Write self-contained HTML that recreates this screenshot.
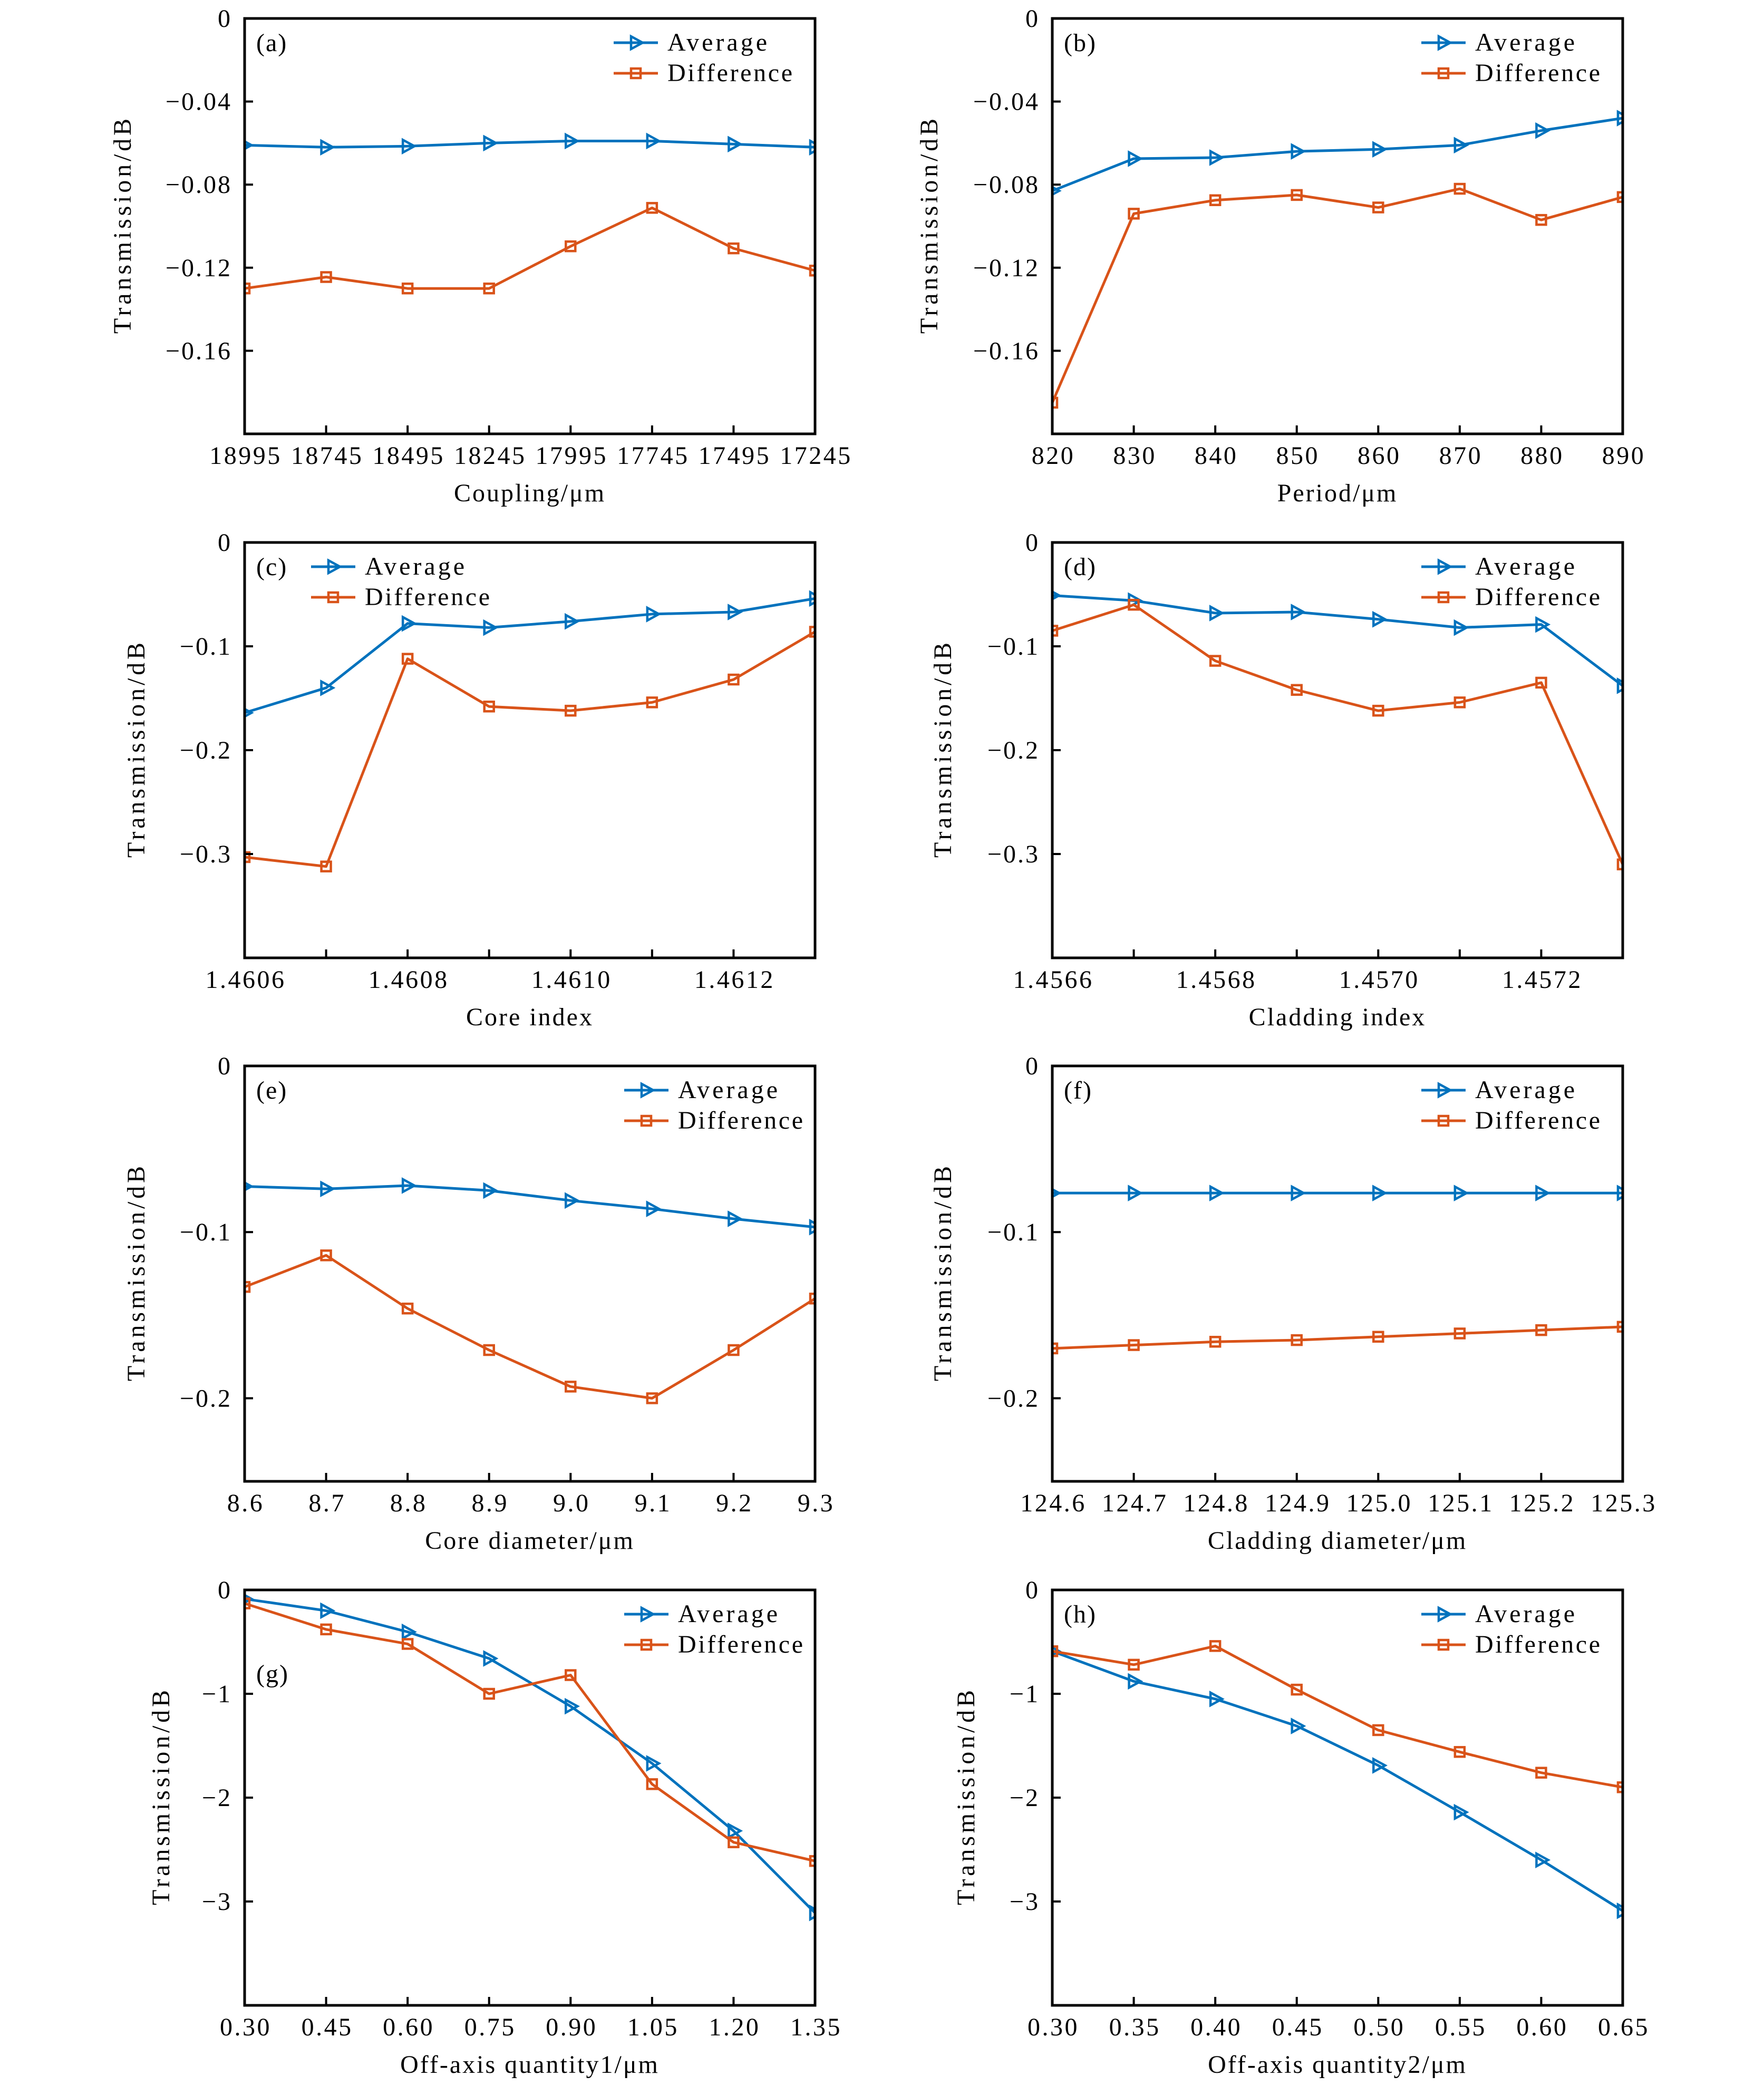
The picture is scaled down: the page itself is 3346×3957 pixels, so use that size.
<!DOCTYPE html>
<html><head><meta charset="utf-8">
<style>
html,body{margin:0;padding:0;background:#fff;}
svg{display:block;}
text{font-family:"Liberation Serif",serif;fill:#000;}
</style></head>
<body>
<svg id="fig" width="3346" height="3957" viewBox="0 0 3346 3957" xmlns="http://www.w3.org/2000/svg"></svg>
<script>
// ---- data ----
const xLabelsA = ["18995","18745","18495","18245","17995","17745","17495","17245"];
const avgA = [-0.061,-0.062,-0.0615,-0.060,-0.059,-0.059,-0.0605,-0.062];
const difA = [-0.130,-0.1245,-0.130,-0.130,-0.1097,-0.0912,-0.1107,-0.1214];
const yTicksA = [0,-0.04,-0.08,-0.12,-0.16];
const yTickLabelsA = ["0","\u22120.04","\u22120.08","\u22120.12","\u22120.16"];

const xLabelsB = ["820","830","840","850","860","870","880","890"];
const avgB = [-0.083,-0.0675,-0.067,-0.064,-0.063,-0.061,-0.054,-0.048];
const difB = [-0.185,-0.094,-0.0875,-0.085,-0.091,-0.082,-0.097,-0.086];
const yTicksB = [0,-0.04,-0.08,-0.12,-0.16];
const yTickLabelsB = ["0","\u22120.04","\u22120.08","\u22120.12","\u22120.16"];

const xLabelsC = ["1.4606","","1.4608","","1.4610","","1.4612",""];
const avgC = [-0.164,-0.140,-0.078,-0.082,-0.076,-0.069,-0.067,-0.054];
const difC = [-0.303,-0.312,-0.112,-0.158,-0.162,-0.154,-0.132,-0.086];
const yTicksC = [0,-0.1,-0.2,-0.3];
const yTickLabelsC = ["0","\u22120.1","\u22120.2","\u22120.3"];

const xLabelsD = ["1.4566","","1.4568","","1.4570","","1.4572",""];
const avgD = [-0.051,-0.056,-0.068,-0.067,-0.074,-0.082,-0.079,-0.138];
const difD = [-0.085,-0.060,-0.114,-0.142,-0.162,-0.154,-0.135,-0.310];
const yTicksD = [0,-0.1,-0.2,-0.3];
const yTickLabelsD = ["0","\u22120.1","\u22120.2","\u22120.3"];

const xLabelsE = ["8.6","8.7","8.8","8.9","9.0","9.1","9.2","9.3"];
const avgE = [-0.0725,-0.074,-0.072,-0.075,-0.081,-0.086,-0.092,-0.097];
const difE = [-0.133,-0.114,-0.146,-0.171,-0.193,-0.200,-0.171,-0.140];
const yTicksE = [0,-0.1,-0.2];
const yTickLabelsE = ["0","\u22120.1","\u22120.2"];

const xLabelsF = ["124.6","124.7","124.8","124.9","125.0","125.1","125.2","125.3"];
const avgF = [-0.0765,-0.0765,-0.0765,-0.0765,-0.0765,-0.0765,-0.0765,-0.0765];
const difF = [-0.170,-0.168,-0.166,-0.165,-0.163,-0.161,-0.159,-0.157];
const yTicksF = [0,-0.1,-0.2];
const yTickLabelsF = ["0","\u22120.1","\u22120.2"];

const xLabelsG = ["0.30","0.45","0.60","0.75","0.90","1.05","1.20","1.35"];
const avgG = [-0.086,-0.2,-0.404,-0.66,-1.12,-1.67,-2.32,-3.11];
const difG = [-0.13,-0.38,-0.52,-1.0,-0.82,-1.87,-2.43,-2.61];
const yTicksG = [0,-1,-2,-3];
const yTickLabelsG = ["0","\u22121","\u22122","\u22123"];

const xLabelsH = ["0.30","0.35","0.40","0.45","0.50","0.55","0.60","0.65"];
const avgH = [-0.59,-0.88,-1.05,-1.31,-1.69,-2.14,-2.60,-3.09];
const difH = [-0.59,-0.72,-0.54,-0.96,-1.35,-1.56,-1.76,-1.90];
const yTicksH = [0,-1,-2,-3];
const yTickLabelsH = ["0","\u22121","\u22122","\u22123"];

const BLUE="#0072BD", ORANGE="#D95319";
const NS="http://www.w3.org/2000/svg";
const svg=document.getElementById('fig');
function mk(tag,attrs,parent){const e=document.createElementNS(NS,tag);for(const k in attrs)e.setAttribute(k,attrs[k]);(parent||svg).appendChild(e);return e;}

const W=1082,H=788;
const panels=[
 {id:'a',L:464,T:35,ymin:-0.2,xl:xLabelsA,avg:avgA,dif:difA,yt:yTicksA,ytl:yTickLabelsA,xt:'Coupling/μm',leg:'right',lab:0,ytx:232},
 {id:'b',L:1996,T:35,ymin:-0.2,xl:xLabelsB,avg:avgB,dif:difB,yt:yTicksB,ytl:yTickLabelsB,xt:'Period/μm',leg:'right',lab:0,ytx:1762},
 {id:'c',L:464,T:1029,ymin:-0.4,xl:xLabelsC,avg:avgC,dif:difC,yt:yTicksC,ytl:yTickLabelsC,xt:'Core index',leg:'left',lab:0,ytx:258},
 {id:'d',L:1996,T:1029,ymin:-0.4,xl:xLabelsD,avg:avgD,dif:difD,yt:yTicksD,ytl:yTickLabelsD,xt:'Cladding index',leg:'right',lab:0,ytx:1788},
 {id:'e',L:464,T:2022,ymin:-0.25,xl:xLabelsE,avg:avgE,dif:difE,yt:yTicksE,ytl:yTickLabelsE,xt:'Core diameter/μm',leg:'right2',lab:0,ytx:258},
 {id:'f',L:1996,T:2022,ymin:-0.25,xl:xLabelsF,avg:avgF,dif:difF,yt:yTicksF,ytl:yTickLabelsF,xt:'Cladding diameter/μm',leg:'right',lab:0,ytx:1788},
 {id:'g',L:464,T:3016,ymin:-4,xl:xLabelsG,avg:avgG,dif:difG,yt:yTicksG,ytl:yTickLabelsG,xt:'Off-axis quantity1/μm',leg:'right2',lab:113,ytx:305},
 {id:'h',L:1996,T:3016,ymin:-4,xl:xLabelsH,avg:avgH,dif:difH,yt:yTicksH,ytl:yTickLabelsH,xt:'Off-axis quantity2/μm',leg:'right',lab:0,ytx:1832}
];

function tri(g,x,y,color){
  mk('path',{d:`M${x-9},${y-12} L${x+13},${y} L${x-9},${y+12} Z`,fill:'none',stroke:color,'stroke-width':4.5,'stroke-linejoin':'miter'},g);
}
function sq(g,x,y,color){
  mk('rect',{x:x-9,y:y-9,width:18,height:18,fill:'none',stroke:color,'stroke-width':4.5},g);
}

panels.forEach(p=>{
  const g=mk('g',{});
  
  
  const n=p.avg.length;
  const xs=i=>p.L+i*W/(n-1);
  const ys=v=>p.T+(0-v)/(0-p.ymin)*H;
  const cp=mk('clipPath',{id:'clip'+p.id},g);
  mk('rect',{x:p.L,y:p.T,width:W,height:H},cp);
  const sg=mk('g',{'clip-path':`url(#clip${p.id})`},g);
  [[p.avg,BLUE,tri,'average'],[p.dif,ORANGE,sq,'difference']].forEach(([arr,col,mf,nm])=>{
    const pts=arr.map((v,i)=>xs(i)+','+ys(v)).join(' ');
    const pl=mk('polyline',{points:pts,fill:'none',stroke:col,'stroke-width':5,'stroke-linejoin':'round'},sg);
    
    
    arr.forEach((v,i)=>mf(sg,xs(i),ys(v),col));
  });
  const box=mk('rect',{x:p.L,y:p.T,width:W,height:H,fill:'none',stroke:'#000','stroke-width':5},g);
  
  
  p.yt.forEach((v,i)=>{
    const y=ys(v);
    mk('line',{x1:p.L,x2:p.L+16,y1:y,y2:y,stroke:'#000','stroke-width':4},g);
    const t=mk('text',{x:p.L-24,y:y+16,'text-anchor':'end','font-size':48,'letter-spacing':3},g);
    t.textContent=p.ytl[i];
    
    
  });
  p.xl.forEach((lab,i)=>{
    const x=xs(i);
    mk('line',{x1:x,x2:x,y1:p.T+H,y2:p.T+H-16,stroke:'#000','stroke-width':4},g);
    if(lab){
      const t=mk('text',{x:x+2,y:p.T+H+57,'text-anchor':'middle','font-size':48,'letter-spacing':3.5},g);
      t.textContent=lab;
      
      
    }
  });
  const xt=mk('text',{x:p.L+W/2,y:p.T+H+128,'text-anchor':'middle','font-size':48,'letter-spacing':3},g);
  xt.textContent=p.xt;
  
  
  const yt=mk('text',{x:-204,y:0,'font-size':48,textLength:408,lengthAdjust:'spacing',transform:`translate(${p.ytx+16},${p.T+H/2}) rotate(-90)`},g);
  yt.textContent='Transmission/dB';
  
  
  const pl=mk('text',{x:p.L+22,y:p.T+62+p.lab,'font-size':48,'letter-spacing':2},g);
  pl.textContent='('+p.id+')';
  
  
  let lx = p.leg==='left' ? p.L+126 : (p.leg==='right2' ? p.L+720 : p.L+700);
  const lg=mk('g',{},g);
  
  
  [['Average',BLUE,tri,46,189],['Difference',ORANGE,sq,104,237]].forEach(([nm,col,mf,dy,tl])=>{
    const y=p.T+dy;
    mk('line',{x1:lx,x2:lx+84,y1:y,y2:y,stroke:col,'stroke-width':5},lg);
    mf(lg,lx+42,y,col);
    const t=mk('text',{x:lx+102,y:y+15,'font-size':48,textLength:tl,lengthAdjust:'spacing'},lg);
    t.textContent=nm;
    
    
  });
});
</script>
</body></html>
